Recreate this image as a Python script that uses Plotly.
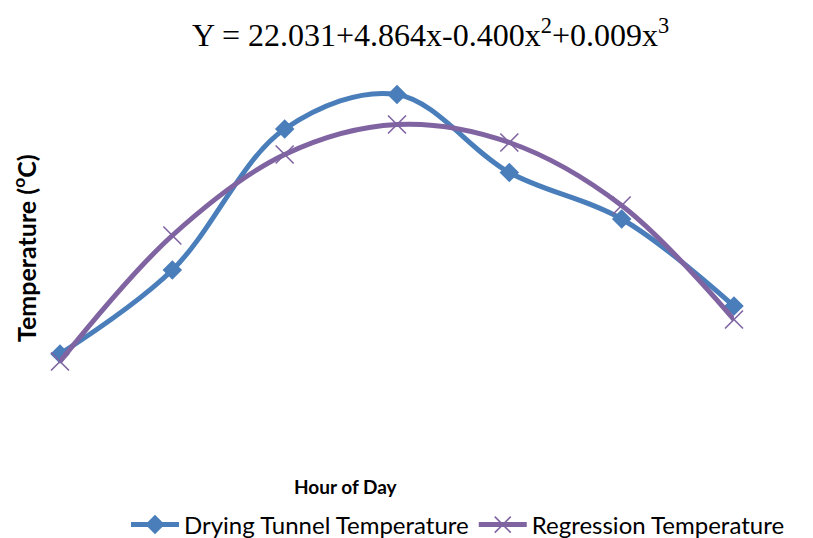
import plotly.graph_objects as go

hours = ["1", "2", "3", "4", "5", "6", "7"]
drying_temp = [31.4, 37.0, 46.4, 48.7, 43.5, 40.4, 34.6]
regression_temp = [30.9, 39.3, 44.7, 46.7, 45.5, 41.3, 33.7]

title_text = "Y = 22.031+4.864x-0.400x<sup>2</sup>+0.009x<sup>3</sup>"
x_title = "Hour of Day"
y_title = "Temperature (<sup>o</sup>C)"

# the page body adds an 8px offset; figure sized to fill the 813x538 window
OFF = 8
W, H = 813 - OFF, 538 - OFF
plot_left, plot_right, plot_top, plot_bottom = 60, 734, 70, 440
L, R = plot_left - OFF, W - (plot_right - OFF)
T, B = plot_top - OFF, H - (plot_bottom - OFF)
pw, ph = W - L - R, H - T - B


def px_x(p):
    return (p - plot_left) / pw


def px_y(p):
    return (plot_bottom - p) / ph


fig = go.Figure()
fig.add_trace(go.Scatter(
    x=hours, y=drying_temp, name="Drying Tunnel Temperature",
    mode="lines+markers", line=dict(color="#4A7EBB", width=5, shape="spline", smoothing=1.0),
    marker=dict(symbol="diamond", size=15, color="#4A7EBB"), cliponaxis=False))
fig.add_trace(go.Scatter(
    x=hours, y=regression_temp, name="Regression Temperature",
    mode="lines+markers", line=dict(color="#8064A2", width=5, shape="spline", smoothing=1.0),
    marker=dict(symbol="x-thin", size=18, line=dict(color="#8064A2", width=1.6)), cliponaxis=False))

fig.update_layout(
    width=W, height=H, margin=dict(l=L, r=R, t=T, b=B, autoexpand=False),
    paper_bgcolor="white", plot_bgcolor="white",
    showlegend=True,
    legend=dict(orientation="h", xref="container", yref="container",
                x=(458 - OFF) / W, xanchor="center",
                y=1 - (525 - OFF) / H, yanchor="middle",
                font=dict(family="Lato", size=24, color="black"),
                itemwidth=48, bgcolor="rgba(0,0,0,0)",
                tracegroupgap=0),
    font=dict(family="Lato", color="black"),
)
fig.update_xaxes(type="category", range=[0, 6], showgrid=False, zeroline=False,
                 showticklabels=False, showline=False, ticks="")
fig.update_yaxes(range=[25.667, 50.333], showgrid=False, zeroline=False,
                 showticklabels=False, showline=False, ticks="")

fig.add_annotation(text=title_text, xref="paper", yref="paper",
                   x=px_x(430), y=px_y(33), xanchor="center", yanchor="middle",
                   showarrow=False, font=dict(family="Liberation Serif", size=32, color="black"))
fig.add_annotation(text="<b>" + x_title + "</b>", xref="paper", yref="paper",
                   x=px_x(346), y=px_y(486), xanchor="center", yanchor="middle",
                   showarrow=False, font=dict(family="Lato", size=19, color="black"))
fig.add_annotation(text="<b>" + y_title + "</b>", xref="paper", yref="paper",
                   x=px_x(24), y=px_y(248), xanchor="center", yanchor="middle",
                   textangle=-90, showarrow=False, font=dict(family="Lato", size=25, color="black"))

fig.write_html("out.html")
